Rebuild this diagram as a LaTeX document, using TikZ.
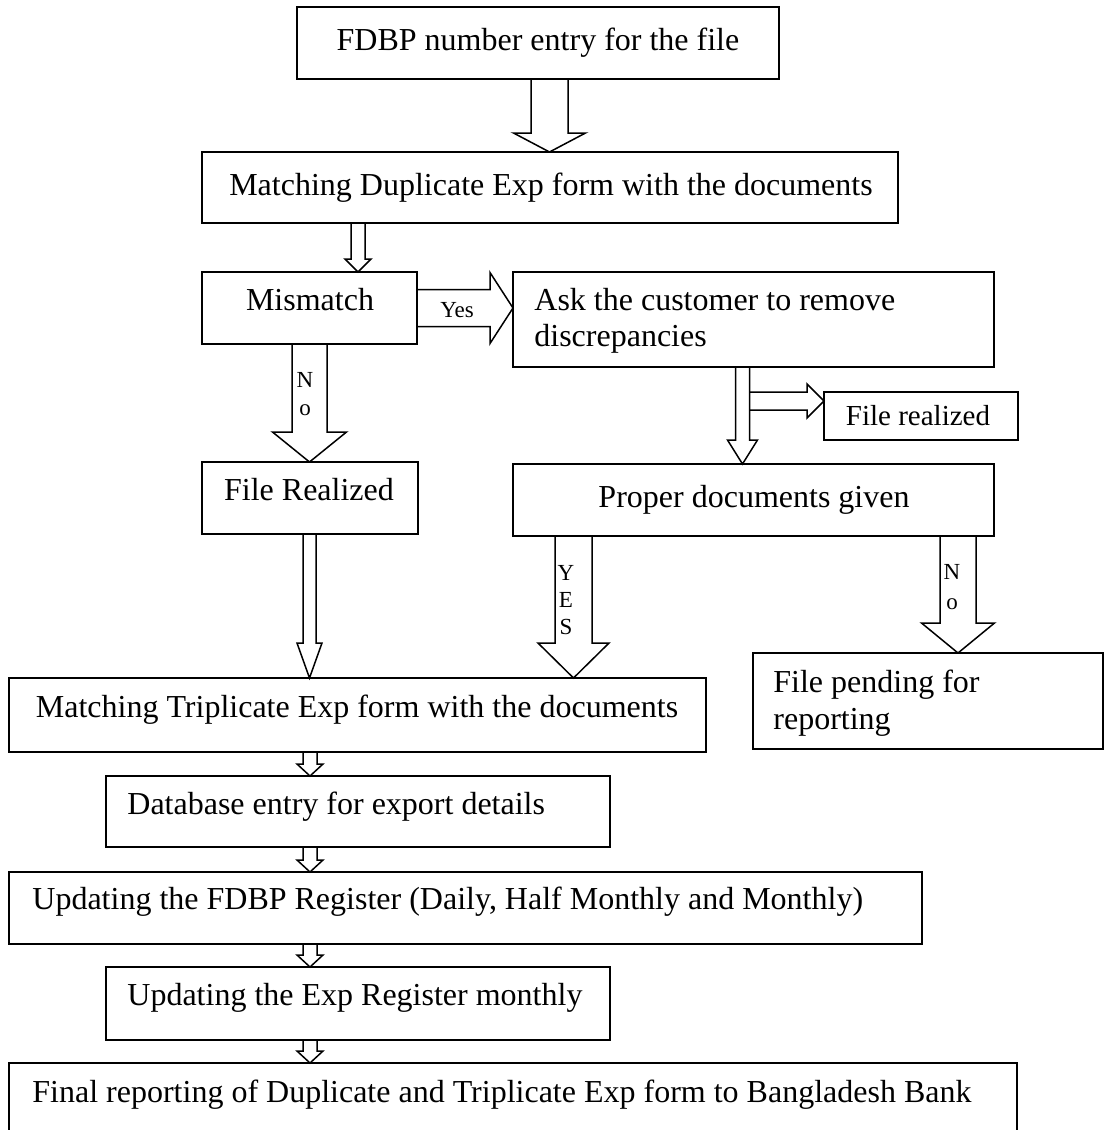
\documentclass[tikz,border=0pt]{standalone}
\usepackage{fontspec}
\setmainfont{Liberation Serif}
\usetikzlibrary{calc}

% open block arrow pointing down: start, tip, half shaft, half head, head length
\newcommand\vblock[5]{%
  \draw[arrowline] let \p1=(#1), \p2=(#2) in
    (\x1-#3,\y1) -- (\x1-#3,\y2+#5) -- (\x1-#4,\y2+#5) -- (\x1,\y2)
    -- (\x1+#4,\y2+#5) -- (\x1+#3,\y2+#5) -- (\x1+#3,\y1);}
% open block arrow pointing right
\newcommand\hblock[5]{%
  \draw[arrowline] let \p1=(#1), \p2=(#2) in
    (\x1,\y1+#3) -- (\x2-#5,\y1+#3) -- (\x2-#5,\y1+#4) -- (\x2,\y1)
    -- (\x2-#5,\y1-#4) -- (\x2-#5,\y1-#3) -- (\x1,\y1-#3);}

\begin{document}
\begin{tikzpicture}[x=0.5pt,y=-0.5pt,
  box/.style={draw, line width=1pt, rectangle, inner sep=0pt, outer sep=0pt},
  arrowline/.style={line width=0.75pt, line join=miter},
  txt/.style={inner sep=0pt, font=\fontsize{16pt}{19pt}\selectfont, text height=11pt, text depth=3.5pt},
  smalltxt/.style={inner sep=0pt, font=\fontsize{14.5pt}{17pt}\selectfont, text height=10pt, text depth=3.2pt},
  lbl/.style={inner sep=0pt, font=\fontsize{11.5pt}{13pt}\selectfont, text height=7.6pt, text depth=0pt}
]
\useasboundingbox (0,0) rectangle (1104,1130);
\clip (0,0) rectangle (1104,1130);
\fill[white] (0,0) rectangle (1104,1130);

% boxes
\node[box, minimum width=241pt,   minimum height=36pt]   (b1)   at (538,43)     {};
\node[box, minimum width=348pt,   minimum height=35.5pt] (b2)   at (550,187.5)  {};
\node[box, minimum width=107.5pt, minimum height=36pt]   (mm)   at (309.5,308)  {};
\node[box, minimum width=240.5pt, minimum height=47.5pt] (ask)  at (753.5,319.5){};
\node[box, minimum width=97pt,    minimum height=24pt]   (fr2)  at (921,416)    {};
\node[box, minimum width=108pt,   minimum height=36pt]   (fr)   at (310,498)    {};
\node[box, minimum width=240.5pt, minimum height=36pt]   (prop) at (753.5,500)  {};
\node[box, minimum width=175pt,   minimum height=48pt]   (pend) at (928,701)    {};
\node[box, minimum width=348.5pt, minimum height=37pt]   (trip) at (357.5,715)  {};
\node[box, minimum width=252pt,   minimum height=35.5pt] (db)   at (358,811.5)  {};
\node[box, minimum width=456.5pt, minimum height=36pt]   (freg) at (465.5,908)  {};
\node[box, minimum width=252pt,   minimum height=36.5pt] (ereg) at (358,1003.5) {};
\node[box, minimum width=504pt,   minimum height=38.5pt] (fin)  at (513,1101.5) {};

% box texts
\node[txt] (t1) at (538,43) {FDBP number entry for the file};
\node[txt] (t2) at (551,188) {Matching Duplicate Exp form with the documents};
\node[txt] (tmm) at (310,303) {Mismatch};
\node[txt, anchor=west] (task1) at (534,303) {Ask the customer to remove};
\node[txt, anchor=west] (task2) at (534,339) {discrepancies};
\node[smalltxt] (tfr2) at (918,419) {File realized};
\node[txt] (tfr) at (309,493) {File Realized};
\node[txt] (tprop) at (754,500) {Proper documents given};
\node[txt, anchor=west] (tpend1) at (773,685) {File pending for};
\node[txt, anchor=west] (tpend2) at (773,722) {reporting};
\node[txt] (ttrip) at (357,710) {Matching Triplicate Exp form with the documents};
\node[txt, anchor=west] (tdb) at (127,807) {Database entry for export details};
\node[txt, anchor=west] (tfreg) at (32,902) {Updating the FDBP Register (Daily, Half Monthly and Monthly)};
\node[txt, anchor=west] (tereg) at (127,998) {Updating the Exp Register monthly};
\node[txt, anchor=west] (tfin) at (32,1095) {Final reporting of Duplicate and Triplicate Exp form to Bangladesh Bank};

% arrow axes
\coordinate (xa)  at (549.5,0);
\coordinate (xb)  at (358,0);
\coordinate (xc)  at (309.5,0);
\coordinate (xd)  at (742.5,0);
\coordinate (xe)  at (573.5,0);
\coordinate (xf)  at (958,0);
\coordinate (xg)  at (310,0);
\coordinate (side) at (749.5,401);

% block arrows
\vblock{b1.south -| xa}{b2.north -| xa}{9.25pt}{18pt}{9.5pt}
\vblock{b2.south -| xb}{mm.north -| xb}{3.5pt}{6.5pt}{6.5pt}
\hblock{mm.east}{ask.west |- mm.east}{9.25pt}{17.75pt}{11.5pt}
\vblock{mm.south -| xc}{fr.north -| xc}{8.75pt}{18.5pt}{15pt}
\vblock{ask.south -| xd}{prop.north -| xd}{3.5pt}{7.5pt}{12pt}
\hblock{side}{fr2.west |- side}{4.5pt}{8.5pt}{8.5pt}
\vblock{fr.south -| xc}{trip.north -| xc}{3.25pt}{6.25pt}{17.5pt}
\vblock{prop.south -| xe}{trip.north -| xe}{9.25pt}{17.75pt}{17.5pt}
\vblock{prop.south -| xf}{pend.north -| xf}{9pt}{18.25pt}{15pt}
\vblock{trip.south -| xg}{db.north -| xg}{3.5pt}{6.5pt}{6pt}
\vblock{db.south -| xg}{freg.north -| xg}{3.5pt}{6.5pt}{6pt}
\vblock{freg.south -| xg}{ereg.north -| xg}{3.5pt}{6.5pt}{6pt}
\vblock{ereg.south -| xg}{fin.north -| xg}{3.5pt}{6.5pt}{6pt}

% arrow labels
\node[lbl] (lyes) at (457,310) {Yes};
\node[lbl] (ln1) at (305,380) {N};
\node[lbl] (lo1) at (305,408) {o};
\node[lbl] (ly2) at (566,573) {Y};
\node[lbl] (le2) at (566,600) {E};
\node[lbl] (ls2) at (566,627) {S};
\node[lbl] (ln3) at (952,572) {N};
\node[lbl] (lo3) at (952,602) {o};
\end{tikzpicture}
\end{document}
